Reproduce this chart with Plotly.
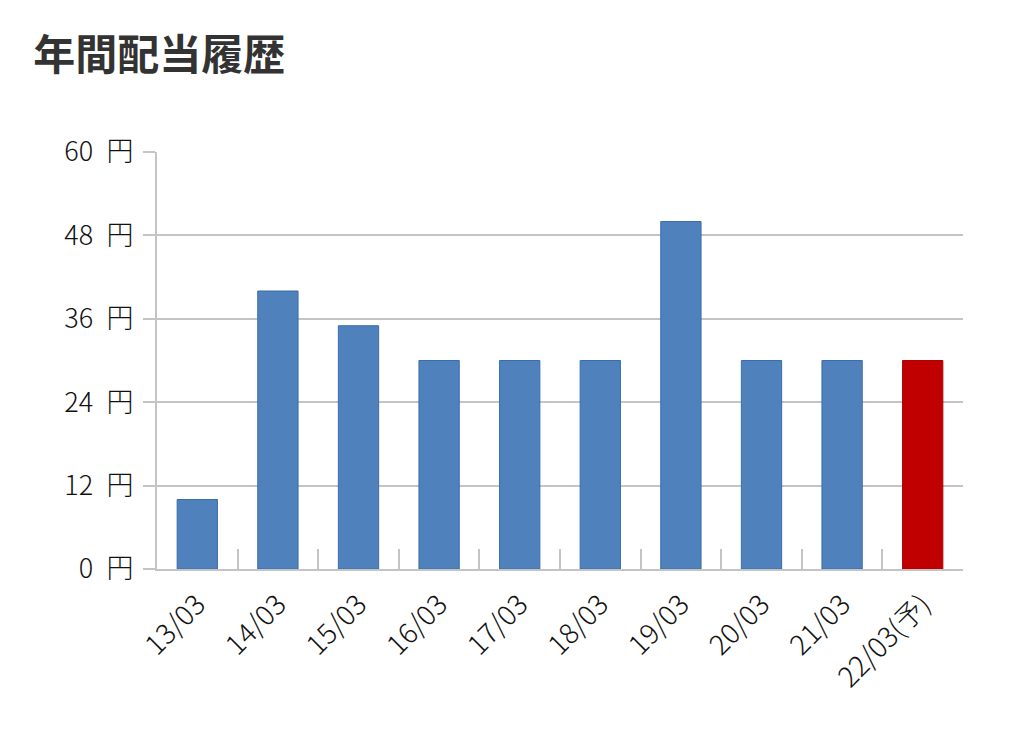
import plotly.graph_objects as go

# data
years = ['13/03', '14/03', '15/03', '16/03', '17/03', '18/03', '19/03', '20/03', '21/03', '22/03(予)']
dividends = [10, 40, 35, 30, 30, 30, 50, 30, 30, 30]
bar_colors = ['#4F81BD'] * 9 + ['#C00000']
line_colors = ['#3A6DAA'] * 9 + ['#B00000']

font_family = 'Noto Sans CJK JP, Noto Sans, sans-serif'

fig = go.Figure()
fig.add_trace(go.Bar(x=years, y=dividends,
                     marker=dict(color=bar_colors, line=dict(color=line_colors, width=1)),
                     width=0.5))

# page body has an 8px margin, so the figure is a bit smaller than the window
fig.update_layout(
    width=1008, height=725,
    paper_bgcolor='white', plot_bgcolor='white',
    margin=dict(l=149, r=53, t=144, b=164),
    showlegend=False,
    font=dict(family=font_family, color='#111111', size=26),
    title=dict(text='<b>年間配当履歴</b>', x=0.025, xanchor='left', y=0.935, yanchor='middle',
               font=dict(size=42, color='#333333', family=font_family)),
)

fig.update_xaxes(
    type='category',
    showline=True, linecolor='#C4C4C4', linewidth=2,
    ticks='inside', tickson='boundaries', ticklen=20, tickcolor='#C4C4C4', tickwidth=2,
    tickangle=-45, tickfont=dict(size=28, color='#111111', weight=300),
    ticklabelstandoff=6,
    showgrid=False,
)
fig.update_yaxes(
    range=[0, 60], dtick=12, ticksuffix='\u2002円',
    showline=True, linecolor='#C4C4C4', linewidth=2,
    ticks='outside', ticklen=12, tickcolor='#C4C4C4', tickwidth=2,
    showgrid=True, gridcolor='#C4C4C4', gridwidth=2,
    zeroline=False,
    ticklabelstandoff=4,
    tickfont=dict(size=27, color='#111111', weight=300),
)

fig.write_html('out.html')
